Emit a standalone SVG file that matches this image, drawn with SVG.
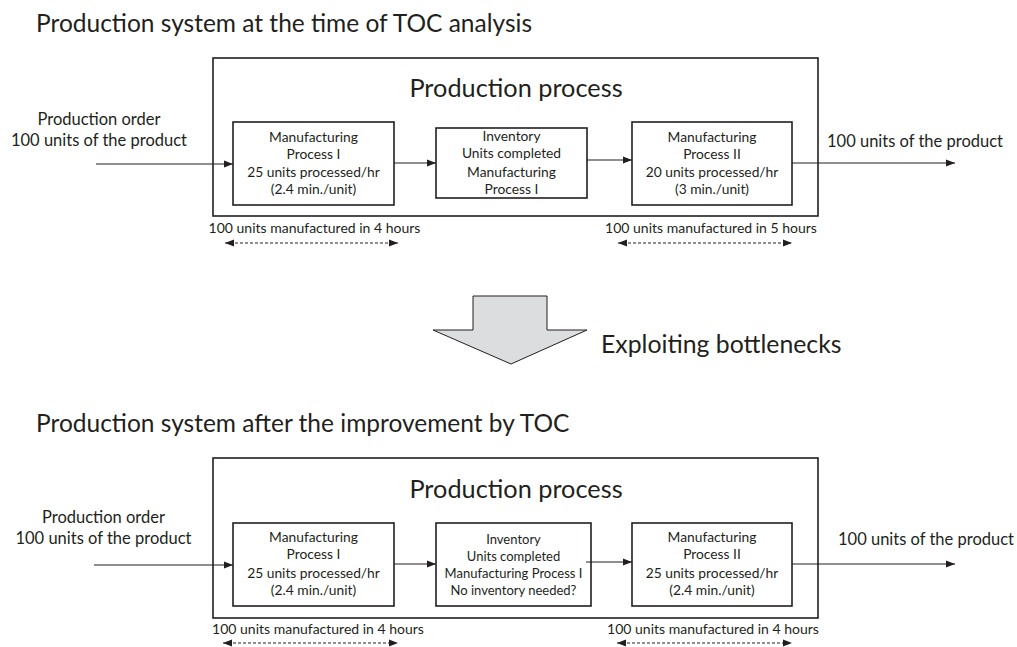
<svg xmlns="http://www.w3.org/2000/svg" width="1017" height="647" viewBox="0 0 1017 647">
<style>
text{font-family:Lato,"Open Sans","Liberation Sans",sans-serif;fill:#231f20}
.title{font-size:24.5px}
.pp{font-size:25.3px;text-anchor:middle}
.lbl{font-size:16.5px}
.c{text-anchor:middle}
.bx{font-size:13.8px;text-anchor:middle}
.bxs{font-size:13px;text-anchor:middle}
.dl{font-size:14px;text-anchor:middle}
.box{fill:#fff;stroke:#231f20;stroke-width:1.6}
.outer{fill:none;stroke:#231f20;stroke-width:1.6}
.ln{stroke:#231f20;stroke-width:1.1;fill:none}
.dash{stroke:#231f20;stroke-width:1;stroke-dasharray:3 2;fill:none}
</style>
<defs>
<marker id="ah" viewBox="0 0 10 10" refX="10" refY="5" markerWidth="9" markerHeight="9" markerUnits="userSpaceOnUse" orient="auto-start-reverse"><path d="M0,1 L10,5 L0,9 Z" fill="#231f20"/></marker>
</defs>

<text class="title" x="36" y="32">Production system at the time of TOC analysis</text>
<rect id="outer1" class="outer" x="213" y="58" width="605" height="158"/>
<text class="pp" x="516" y="97">Production process</text>

<g id="in1"><text class="lbl c" x="99" y="125">Production order</text><text class="lbl c" x="99" y="146">100 units of the product</text></g>
<g id="out1"><text class="lbl" x="827" y="146.5">100 units of the product</text></g>

<g id="mp1a"><rect class="box" x="233" y="122" width="161" height="83"/>
<text class="bx" x="313.5" y="142">Manufacturing</text><text class="bx" x="313.5" y="159">Process I</text><text class="bx" x="313.5" y="177">25 units processed/hr</text><text class="bx" x="313.5" y="194">(2.4 min./unit)</text></g>
<g id="inv1"><rect class="box" x="436" y="128" width="151" height="70"/>
<text class="bx" x="511.5" y="141">Inventory</text><text class="bx" x="511.5" y="158">Units completed</text><text class="bx" x="511.5" y="176.5">Manufacturing</text><text class="bx" x="511.5" y="194">Process I</text></g>
<g id="mp2a"><rect class="box" x="632" y="122" width="160" height="83"/>
<text class="bx" x="712" y="142">Manufacturing</text><text class="bx" x="712" y="159">Process II</text><text class="bx" x="712" y="177">20 units processed/hr</text><text class="bx" x="712" y="194">(3 min./unit)</text></g>

<text class="dl" x="314.5" y="233">100 units manufactured in 4 hours</text>
<text class="dl" x="711" y="233">100 units manufactured in 5 hours</text>

<g id="arrow-big"><path d="M473,296 L547,296 L547,330 L587,330 L511,364 L433,330 L473,330 Z" fill="#dcddde" stroke="#231f20" stroke-width="1"/></g>
<text x="601" y="353" style="font-size:24.8px">Exploiting bottlenecks</text>

<text class="title" x="36" y="432">Production system after the improvement by TOC</text>
<rect id="outer2" class="outer" x="213" y="458" width="605" height="160"/>
<text class="pp" x="516" y="498">Production process</text>

<g id="in2"><text class="lbl c" x="103.5" y="523">Production order</text><text class="lbl c" x="103.5" y="544">100 units of the product</text></g>
<g id="out2"><text class="lbl" x="838" y="545">100 units of the product</text></g>

<g id="mp1b"><rect class="box" x="233" y="523" width="161" height="83"/>
<text class="bx" x="313.5" y="542">Manufacturing</text><text class="bx" x="313.5" y="559">Process I</text><text class="bx" x="313.5" y="578">25 units processed/hr</text><text class="bx" x="313.5" y="595">(2.4 min./unit)</text></g>
<g id="inv2"><rect class="box" x="436" y="523" width="155" height="83"/>
<text class="bxs" x="513.5" y="544">Inventory</text><text class="bxs" x="513.5" y="561">Units completed</text><text class="bxs" x="513.5" y="578">Manufacturing Process I</text><text class="bxs" x="513.5" y="595">No inventory needed?</text></g>
<g id="mp2b"><rect class="box" x="632" y="523" width="160" height="83"/>
<text class="bx" x="712" y="542">Manufacturing</text><text class="bx" x="712" y="559">Process II</text><text class="bx" x="712" y="578">25 units processed/hr</text><text class="bx" x="712" y="595">(2.4 min./unit)</text></g>

<text class="dl" x="318" y="634">100 units manufactured in 4 hours</text>
<text class="dl" x="713" y="634">100 units manufactured in 4 hours</text>

<g id="connectors">
<line class="ln" x1="96" y1="164" x2="233" y2="164" marker-end="url(#ah)"/>
<line class="ln" x1="394" y1="163" x2="436" y2="163" marker-end="url(#ah)"/>
<line class="ln" x1="587" y1="160" x2="632" y2="160" marker-end="url(#ah)"/>
<line class="ln" x1="792" y1="163" x2="955" y2="163" marker-end="url(#ah)"/>
<line class="dash" x1="225" y1="243" x2="398" y2="243" marker-start="url(#ah)" marker-end="url(#ah)"/>
<line class="dash" x1="618" y1="243" x2="792" y2="243" marker-start="url(#ah)" marker-end="url(#ah)"/>
<line class="ln" x1="94" y1="565" x2="233" y2="565" marker-end="url(#ah)"/>
<line class="ln" x1="394" y1="564" x2="436" y2="564" marker-end="url(#ah)"/>
<line class="ln" x1="586" y1="562" x2="632" y2="562" marker-end="url(#ah)"/>
<line class="ln" x1="792" y1="564" x2="955" y2="564" marker-end="url(#ah)"/>
<line class="dash" x1="223" y1="643" x2="398" y2="643" marker-start="url(#ah)" marker-end="url(#ah)"/>
<line class="dash" x1="617" y1="643" x2="792" y2="643" marker-start="url(#ah)" marker-end="url(#ah)"/>
</g>
</svg>
